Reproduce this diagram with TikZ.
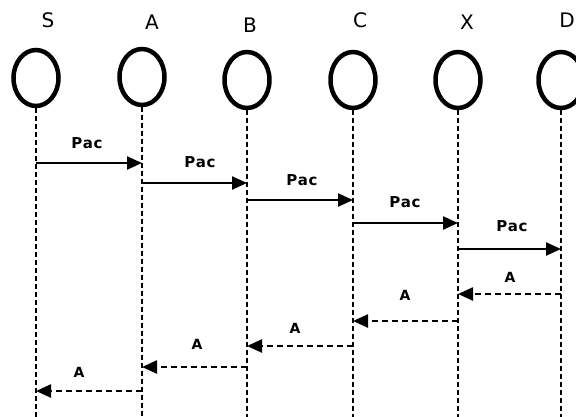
\documentclass[tikz,border=0pt]{standalone}
\usepackage{fontspec}
\setmainfont{DejaVu Sans}
\newfontfamily\msgfont[LetterSpace=5]{DejaVu Sans}
\usetikzlibrary{shapes.geometric,arrows.meta}
\tikzset{
  head/.style={ellipse, draw, line width=4.5pt, minimum width=45pt, minimum height=56pt, inner sep=0pt},
  name label/.style={font=\fontsize{20}{20}\selectfont},
  lifeline/.style={line width=2.5pt, dash pattern=on 5pt off 3pt},
  pac/.style={line width=2.4pt, -{Triangle[length=15pt,width=13pt]}},
  ack/.style={line width=2.4pt, dash pattern=on 6pt off 4pt, -{Triangle[length=15pt,width=13pt]}},
  msg label/.style={font=\msgfont\bfseries\fontsize{15}{15}\selectfont},
  ack label/.style={font=\bfseries\fontsize{14}{14}\selectfont},
}
\begin{document}
\begin{tikzpicture}[x=1pt,y=-1pt]
\useasboundingbox (0,0) rectangle (576,416);
\clip (0,0) rectangle (576,416);

% participants: heads and names
\foreach \n/\x/\y/\lx/\ly in {S/36/78/48/20, A/142/77/152/22, B/247/80/250/25, C/353/80/360/20, X/458/80/467/22, D/561/80/567/20}{
  \node[head] (\n) at (\x,\y) {};
  \node[name label] (\n-name) at (\lx,\ly) {\n};
  \coordinate (\n-end) at (\x,420);
  \draw[lifeline] (\n.south) -- (\n-end);
}

% outgoing packets
\foreach \a/\b/\y/\lx/\ly [count=\i] in {S/A/163/87/143, A/B/183/200/162, B/C/200/302/180, C/X/223/405/202, X/D/249/512/226}{
  \coordinate (p\i s) at (\a |- 0,\y);
  \coordinate (p\i e) at (\b |- 0,\y);
  \draw[pac] (p\i s) -- (p\i e);
  \node[msg label] (p\i lab) at (\lx,\ly) {Pac};
}

% returning acknowledgements
\foreach \a/\b/\y/\lx/\ly [count=\i] in {D/X/294/510/277, X/C/321/405/295, C/B/346/295/328, B/A/367/197/344, A/S/391/79/372}{
  \coordinate (a\i s) at (\a |- 0,\y);
  \coordinate (a\i e) at (\b |- 0,\y);
  \draw[ack] (a\i s) -- (a\i e);
  \node[ack label] (a\i lab) at (\lx,\ly) {A};
}
\end{tikzpicture}
\end{document}
